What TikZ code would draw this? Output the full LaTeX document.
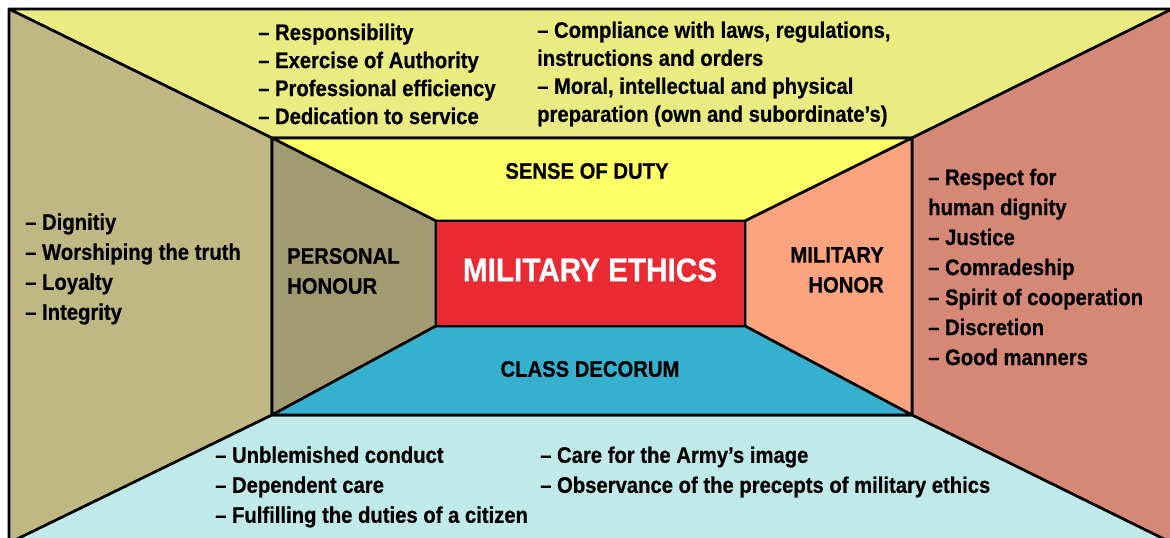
\documentclass[tikz,border=0pt]{standalone}
\usepackage{fontspec}
\setmainfont{Liberation Sans}[FakeStretch=0.9, BoldFeatures={FakeBold=0.6}]

\definecolor{dutyout}{HTML}{EAEC82}
\definecolor{dutyin}{HTML}{FFFF66}
\definecolor{persout}{HTML}{BFB883}
\definecolor{persin}{HTML}{A29A70}
\definecolor{honout}{HTML}{D68876}
\definecolor{honin}{HTML}{FCA47F}
\definecolor{decout}{HTML}{C0EAEA}
\definecolor{decin}{HTML}{35B0CF}
\definecolor{ethics}{HTML}{E92A33}

\begin{document}
\begin{tikzpicture}[
  x=1pt, y=-1pt,
  face/.style={
    draw,
    line width=2.6pt,
    line join=round
  },
  item/.style={
    align=left,
    inner sep=0pt,
    font=\fontsize{22.5}{30}\selectfont\bfseries
  },
  title/.style={
    inner sep=0pt,
    font=\fontsize{22.5}{30}\selectfont\bfseries
  }
]
\useasboundingbox (0,0) rectangle (1170,538);
\clip (0,0) rectangle (1170,538);

% outer frame, middle frame, inner frame
\coordinate (o1) at (9,9);
\coordinate (o2) at (1172,9);
\coordinate (o3) at (1172,543);
\coordinate (o4) at (9,543);
\coordinate (m1) at (272,138);
\coordinate (m2) at (912,138);
\coordinate (m3) at (912,415);
\coordinate (m4) at (272,415);
\coordinate (i1) at (436,221);
\coordinate (i2) at (745,221);
\coordinate (i3) at (745,326);
\coordinate (i4) at (436,326);

% outer walls
\draw[face, fill=dutyout] (o1) -- (o2) -- (m2) -- (m1) -- cycle;
\draw[face, fill=persout] (o1) -- (m1) -- (m4) -- (o4) -- cycle;
\draw[face, fill=honout] (o2) -- (o3) -- (m3) -- (m2) -- cycle;
\draw[face, fill=decout] (o4) -- (m4) -- (m3) -- (o3) -- cycle;

% inner walls
\draw[face, fill=dutyin] (m1) -- (m2) -- (i2) -- (i1) -- cycle;
\draw[face, fill=persin] (m1) -- (i1) -- (i4) -- (m4) -- cycle;
\draw[face, fill=honin] (m2) -- (m3) -- (i3) -- (i2) -- cycle;
\draw[face, fill=decin] (m4) -- (i4) -- (i3) -- (m3) -- cycle;
\draw[face, fill=ethics] (i1) rectangle (i3);

\node[title, text=white, font=\fontsize{33}{36}\selectfont\bfseries] (core) at (590,270) {MILITARY ETHICS};
\node[title] (duty) at (587,171) {SENSE OF DUTY};
\node[title] (decorum) at (590,369) {CLASS DECORUM};
\node[title, align=left, anchor=west] (personal) at (287,271) {PERSONAL\\HONOUR};
\node[title, align=right, anchor=east] (honor) at (884,270) {MILITARY\\HONOR};

% lists
\node[item, anchor=west, font=\fontsize{22.5}{28}\selectfont\bfseries] (dutyA) at (258,74) {– Responsibility\\– Exercise of Authority\\– Professional efficiency\\– Dedication to service};
\node[item, anchor=west, font=\fontsize{22.5}{28}\selectfont\bfseries] (dutyB) at (537,74) {– Compliance with laws, regulations,\\instructions and orders\\– Moral, intellectual and physical\\preparation (own and subordinate’s)};
\node[item, anchor=west] (personalL) at (25,269) {– Dignitiy\\– Worshiping the truth\\– Loyalty\\– Integrity};
\node[item, anchor=west] (honorL) at (928,267) {– Respect for\\human dignity\\– Justice\\– Comradeship\\– Spirit of cooperation\\– Discretion\\– Good manners};
\node[item, anchor=west] (decorumA) at (215,487) {– Unblemished conduct\\– Dependent care\\– Fulfilling the duties of a citizen};
\node[item, anchor=west] (decorumB) at (540,472) {– Care for the Army’s image\\– Observance of the precepts of military ethics};
\end{tikzpicture}
\end{document}
